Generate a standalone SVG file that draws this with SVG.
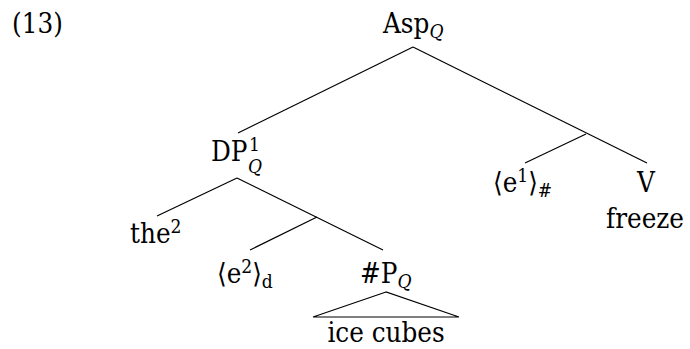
<svg xmlns="http://www.w3.org/2000/svg" width="690" height="349" viewBox="0 0 690 349">
<style>
text{font-family:"DejaVu Serif Condensed","DejaVu Serif","Liberation Serif",serif;font-stretch:condensed;font-size:27.5px;fill:#000}
.s{font-size:19px}
.i{font-style:italic}
.e line,.e path{stroke:#000;stroke-width:1.2;fill:none}
</style>
<rect width="690" height="349" fill="#fff"/>
<text id="ex" x="12" y="33">(13)</text>
<g class="e" id="connectors">
<line x1="413" y1="47" x2="238" y2="133"/>
<line x1="413" y1="47" x2="647" y2="163"/>
<line x1="586" y1="134" x2="525" y2="163"/>
<line x1="237" y1="178" x2="157" y2="216"/>
<line x1="237" y1="178" x2="383" y2="250"/>
<line x1="317" y1="217" x2="250" y2="250"/>
<path d="M386 292 L313 317 L459 317 Z"/>
</g>
<g id="n-asp"><text x="383" y="33">Asp<tspan class="s i" dy="5">Q</tspan></text></g>
<g id="n-dp"><text x="211" y="161">DP<tspan class="s" x="249" dy="-10">1</tspan><tspan class="s i" x="248" dy="22">Q</tspan></text></g>
<g id="n-the"><text x="130" y="243">the<tspan class="s" dy="-10">2</tspan></text></g>
<g id="n-e2"><text x="217" y="283">⟨e<tspan class="s" dy="-10">2</tspan><tspan dy="10">⟩</tspan><tspan class="s" dy="5">d</tspan></text></g>
<g id="n-hashp"><text x="360" y="283">#P<tspan class="s i" dy="5">Q</tspan></text></g>
<g id="n-ice"><text x="386" y="342" text-anchor="middle">ice cubes</text></g>
<g id="n-e1"><text x="493" y="192">⟨e<tspan class="s" dy="-10">1</tspan><tspan dy="10">⟩</tspan><tspan class="s i" dy="5">#</tspan></text></g>
<g id="n-v"><text x="646" y="192" text-anchor="middle">V</text><text x="645" y="228" text-anchor="middle">freeze</text></g>
</svg>
